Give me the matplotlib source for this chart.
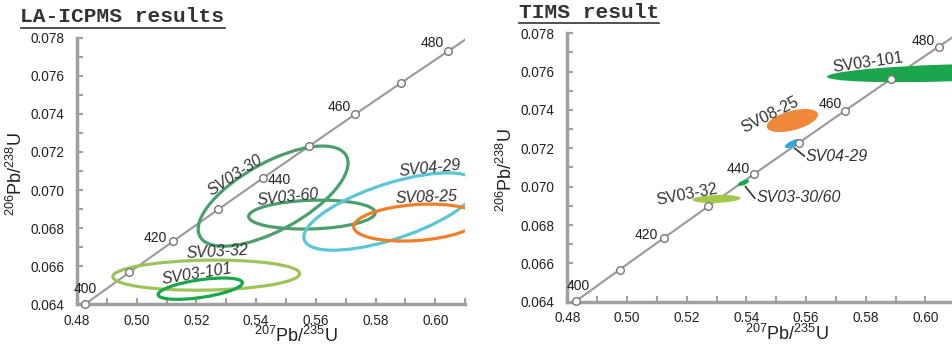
import numpy as np
import matplotlib
matplotlib.use("Agg")
import matplotlib.pyplot as plt
from matplotlib.patches import Ellipse
from matplotlib.transforms import Affine2D
from matplotlib.lines import Line2D
from matplotlib.ticker import MultipleLocator

plt.rcParams['font.family'] = ['Liberation Sans', 'DejaVu Sans']
plt.rcParams['mathtext.fontset'] = 'custom'
plt.rcParams['mathtext.rm'] = 'Liberation Sans'

# concordia points (207Pb/235U, 206Pb/238U) every 10 Ma, 400..480, plus end of line
conc_age = [400, 410, 420, 430, 440, 450, 460, 470, 480]
conc_x = [0.4828, 0.4975, 0.5123, 0.5273, 0.5424, 0.5577, 0.5731, 0.5886, 0.6044]
conc_y = [0.06402, 0.06567, 0.06732, 0.06898, 0.07064, 0.07230, 0.07397, 0.07563, 0.07730]
conc_end_x = 0.6202
conc_end_y = 0.07897
conc_labels = [400, 420, 440, 460, 480]

# LA-ICPMS error ellipses: centre, half-ranges, correlation
la_names = ['SV03-30', 'SV03-60', 'SV04-29', 'SV08-25', 'SV03-32', 'SV03-101']
la_cx = [0.5457, 0.5587, 0.5850, 0.5937, 0.5233, 0.5213]
la_cy = [0.06968, 0.06871, 0.06887, 0.06829, 0.06553, 0.06482]
la_sx = [0.0251, 0.0212, 0.0290, 0.0210, 0.0313, 0.0141]
la_sy = [0.00263, 0.00076, 0.00203, 0.00097, 0.00079, 0.00056]
la_rho = [0.66, 0.13, 0.66, 0.22, 0.10, 0.55]
la_colors = ['#4c9f6c', '#4c9f6c', '#5bc6d6', '#f07f2a', '#9dc45a', '#1aa64a']

# TIMS error ellipses
tims_names = ['SV03-101', 'SV08-25', 'SV04-29', 'SV03-30/60', 'SV03-32']
tims_cx = [0.6070, 0.5554, 0.5556, 0.5390, 0.5300]
tims_cy = [0.07593, 0.07345, 0.07225, 0.07020, 0.06936]
tims_sx = [0.0400, 0.0086, 0.0027, 0.0019, 0.0081]
tims_sy = [0.00048, 0.00060, 0.00024, 0.00016, 0.00021]
tims_rho = [0.40, 0.50, 0.70, 0.60, 0.20]
tims_colors = ['#1ba54d', '#f0883a', '#29a9e1', '#1ba54d', '#a3c84a']

axis_grey = '#a0a0a0'
text_col = '#333333'


def draw_ellipse(ax, cx, cy, sx, sy, rho, **kw):
    m = np.array([[sx, 0, cx], [rho * sy, sy * np.sqrt(1 - rho ** 2), cy], [0, 0, 1]])
    e = Ellipse((0, 0), 2, 2, transform=Affine2D(m) + ax.transData, **kw)
    ax.add_patch(e)


def style_axes(ax):
    ax.set_xlim(0.48, 0.61)
    ax.set_ylim(0.064, 0.078)
    for s in ['top', 'right']:
        ax.spines[s].set_visible(False)
    for s in ['left', 'bottom']:
        ax.spines[s].set_color(axis_grey)
        ax.spines[s].set_linewidth(2.5)
    ax.xaxis.set_major_locator(MultipleLocator(0.02))
    ax.xaxis.set_minor_locator(MultipleLocator(0.01))
    ax.yaxis.set_major_locator(MultipleLocator(0.002))
    ax.yaxis.set_minor_locator(MultipleLocator(0.001))
    ax.xaxis.set_major_formatter(matplotlib.ticker.FormatStrFormatter('%.2f'))
    ax.yaxis.set_major_formatter(matplotlib.ticker.FormatStrFormatter('%.3f'))
    ax.tick_params(which='both', direction='in', length=4, width=1.5, color=axis_grey,
                   labelsize=9.8, labelcolor='#222222')
    ax.tick_params(axis='x', pad=7)
    ax.tick_params(axis='y', pad=9)
    ax.set_xlabel(r'$^{207}$Pb/$^{235}$U', fontsize=13, color='#222222', va='center')
    ax.set_ylabel(r'$^{206}$Pb/$^{238}$U', fontsize=13, color='#222222', va='center')
    ax.xaxis.set_label_coords(0.565, -0.12)
    ax.yaxis.set_label_coords(-0.158, 0.49)
    ax.set_facecolor('none')


def draw_concordia(ax, label_pos):
    ax.plot(conc_x + [conc_end_x], conc_y + [conc_end_y], color='#999999', lw=1.5, zorder=3)
    ax.plot(conc_x, conc_y, 'o', ms=5.5, mfc='white', mec='#777777', mew=1, zorder=5,
            clip_on=False)
    for age, (lx, ly) in zip(conc_labels, label_pos):
        ax.text(lx, ly, str(age), fontsize=10, color='#222222', ha='center', va='center',
                zorder=6)


fig = plt.figure(figsize=(9.52, 3.45), dpi=100)

# ---------------- LA-ICPMS panel ----------------
ax1 = fig.add_axes([0.0809, 0.118, 0.4076, 0.7728])
style_axes(ax1)
draw_concordia(ax1, [(0.4829, 0.0648), (0.5062, 0.06747), (0.5479, 0.07053),
                     (0.5678, 0.07437), (0.5991, 0.07774)])
for i in range(len(la_names)):
    draw_ellipse(ax1, la_cx[i], la_cy[i], la_sx[i], la_sy[i], la_rho[i],
                 facecolor='none', edgecolor=la_colors[i], lw=2.3, zorder=4)

la_lab = [(0.5331, 0.07079, 33), (0.5506, 0.06963, 6), (0.5981, 0.07116, 6),
          (0.5971, 0.06963, 2), (0.5270, 0.06674, 3), (0.5203, 0.06558, 9)]
for name, (lx, ly, rot) in zip(la_names, la_lab):
    ax1.text(lx, ly, name, fontsize=11.5, style='italic', color=text_col,
             ha='center', va='center', rotation=rot, rotation_mode='anchor', zorder=6)

# ---------------- TIMS panel ----------------
ax2 = fig.add_axes([0.5959, 0.1255, 0.4076, 0.778])
style_axes(ax2)
draw_concordia(ax2, [(0.4836, 0.06482), (0.5064, 0.06748), (0.5372, 0.07092),
                     (0.5680, 0.07431), (0.5991, 0.07762)])
for i in range(len(tims_names)):
    draw_ellipse(ax2, tims_cx[i], tims_cy[i], tims_sx[i], tims_sy[i], tims_rho[i],
                 facecolor=tims_colors[i], edgecolor='none', zorder=4)

ax2.text(0.5807, 0.07645, 'SV03-101', fontsize=11.5, color=text_col, ha='center',
         va='center', rotation=8, rotation_mode='anchor', zorder=6)
ax2.text(0.5479, 0.07374, 'SV08-25', fontsize=11.5, color=text_col, ha='center',
         va='center', rotation=27, rotation_mode='anchor', zorder=6)
ax2.text(0.5201, 0.06957, 'SV03-32', fontsize=11.5, color=text_col, ha='center',
         va='center', rotation=11, rotation_mode='anchor', zorder=6)
ax2.text(0.5598, 0.07155, 'SV04-29', fontsize=11.5, style='italic', color=text_col,
         ha='left', va='center', zorder=6)
ax2.text(0.5435, 0.06946, 'SV03-30/60', fontsize=11.5, style='italic', color=text_col,
         ha='left', va='center', zorder=6)
ax2.plot([0.5562, 0.5594], [0.07200, 0.07160], color='#333333', lw=1.2, zorder=6)
ax2.plot([0.5397, 0.5428], [0.07000, 0.06940], color='#333333', lw=1.2, zorder=6)

# ---------------- underlined titles ----------------
t1 = fig.text(20.5 / 952, 1 - 17 / 345, 'LA-ICPMS results', family='Liberation Mono',
              weight='bold', fontsize=15.3, color=text_col, ha='left', va='center')
t2 = fig.text(519 / 952, 1 - 12 / 345, 'TIMS result', family='Liberation Mono',
              weight='bold', fontsize=15.3, color=text_col, ha='left', va='center')
fig.canvas.draw()
r = fig.canvas.get_renderer()
for t in (t1, t2):
    bb = t.get_window_extent(r).transformed(fig.transFigure.inverted())
    fig.add_artist(Line2D([bb.x0, bb.x1], [bb.y0 - 0.004, bb.y0 - 0.004], color=text_col,
                          lw=1.2, transform=fig.transFigure))

fig.savefig('out.png', dpi=100)
